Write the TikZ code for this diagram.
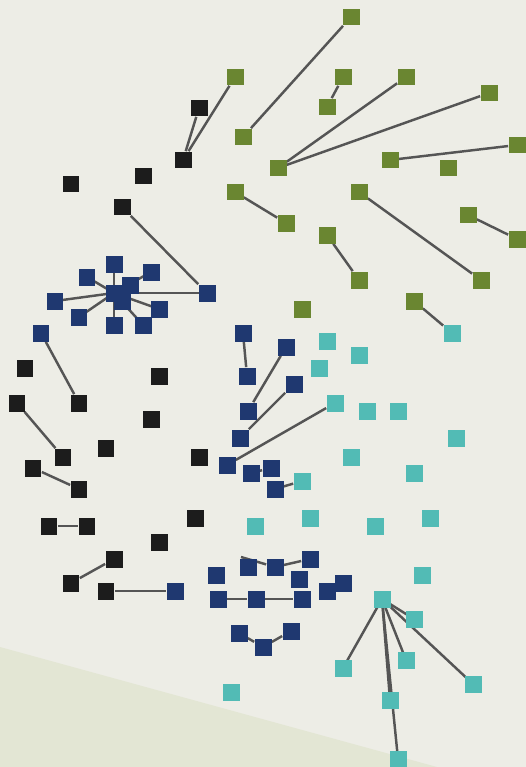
\documentclass[tikz,border=0pt]{standalone}
\usepackage{tikz}
\usetikzlibrary{backgrounds}
\definecolor{cpage}{HTML}{EDEDE6}
\definecolor{cshade}{HTML}{E3E6D4}
\definecolor{cdark}{HTML}{1C1C1C}
\definecolor{cnavy}{HTML}{1F3870}
\definecolor{colive}{HTML}{6A8631}
\definecolor{cteal}{HTML}{52BBB5}
\definecolor{cedge}{HTML}{555555}
\pgfdeclarelayer{edges}
\pgfsetlayers{background,edges,main}
\tikzset{
  sq/.style={rectangle, draw=none, inner sep=0pt, minimum size=3.4mm},
  oliven/.style={sq, fill=colive},
  darkn/.style={sq, fill=cdark},
  navyn/.style={sq, fill=cnavy},
  tealn/.style={sq, fill=cteal},
  link/.style={draw=cedge, line width=1.4pt},
}

\begin{document}
\begin{tikzpicture}[x=0.02cm,y=-0.02cm]
\useasboundingbox (0,0) rectangle (526,767);
\begin{pgfonlayer}{background}
\fill[cpage] (0,0) rectangle (526,767);
\fill[cshade] (0,647) -- (437,767) -- (0,767) -- cycle;
\end{pgfonlayer}
% olive group, top right
\node[oliven] (o1) at (351,17) {};
\node[oliven] (o2) at (235,77) {};
\node[oliven] (o3) at (343,77) {};
\node[oliven] (o4) at (406,77) {};
\node[oliven] (o5) at (489,93) {};
\node[oliven] (o6) at (327,107) {};
\node[oliven] (o7) at (243,137) {};
\node[oliven] (o8) at (517,145) {};
\node[oliven] (o9) at (390,160) {};
\node[oliven] (o10) at (278,168) {};
\node[oliven] (o11) at (448,168) {};
\node[oliven] (o12) at (235,192) {};
\node[oliven] (o13) at (359,192) {};
\node[oliven] (o14) at (286,223) {};
\node[oliven] (o15) at (468,215) {};
\node[oliven] (o16) at (327,235) {};
\node[oliven] (o17) at (517,239) {};
\node[oliven] (o18) at (359,280) {};
\node[oliven] (o19) at (481,280) {};
\node[oliven] (o20) at (302,309) {};
\node[oliven] (o21) at (414,301) {};
% dark group, left
\node[darkn] (k1) at (199,108) {};
\node[darkn] (k2) at (183,160) {};
\node[darkn] (k3) at (71,184) {};
\node[darkn] (k4) at (143,176) {};
\node[darkn] (k5) at (122,207) {};
\node[darkn] (k6) at (25,368) {};
\node[darkn] (k7) at (159,376) {};
\node[darkn] (k8) at (17,403) {};
\node[darkn] (k9) at (79,403) {};
\node[darkn] (k10) at (151,419) {};
\node[darkn] (k11) at (106,448) {};
\node[darkn] (k12) at (63,457) {};
\node[darkn] (k13) at (199,457) {};
\node[darkn] (k14) at (33,468) {};
\node[darkn] (k15) at (79,489) {};
\node[darkn] (k16) at (195,518) {};
\node[darkn] (k17) at (49,526) {};
\node[darkn] (k18) at (87,526) {};
\node[darkn] (k19) at (159,542) {};
\node[darkn] (k20) at (114,559) {};
\node[darkn] (k21) at (71,583) {};
\node[darkn] (k22) at (106,591) {};
% navy group
\node[navyn] (n1) at (114,264) {};
\node[navyn] (n2) at (87,277) {};
\node[navyn] (n3) at (151,272) {};
\node[navyn] (n4) at (130,285) {};
\node[navyn] (n5) at (55,301) {};
\node[navyn] (n6) at (114,293) {};
\node[navyn] (n7) at (122,301) {};
\node[navyn] (n8) at (79,317) {};
\node[navyn] (n9) at (159,309) {};
\node[navyn] (n10) at (114,325) {};
\node[navyn] (n11) at (143,325) {};
\node[navyn] (n12) at (207,293) {};
\node[navyn] (n13) at (41,333) {};
\node[navyn] (n14) at (243,333) {};
\node[navyn] (n15) at (286,347) {};
\node[navyn] (n16) at (247,376) {};
\node[navyn] (n17) at (294,384) {};
\node[navyn] (n18) at (248,411) {};
\node[navyn] (n19) at (240,438) {};
\node[navyn] (n20) at (227,465) {};
\node[navyn] (n21) at (251,473) {};
\node[navyn] (n22) at (271,468) {};
\node[navyn] (n23) at (275,489) {};
\node[navyn] (n24) at (175,591) {};
\node[navyn] (n25) at (216,575) {};
\node[navyn] (n26) at (248,567) {};
\node[navyn] (n27) at (275,567) {};
\node[navyn] (n28) at (310,559) {};
\node[navyn] (n29) at (299,579) {};
\node[navyn] (n30) at (218,599) {};
\node[navyn] (n31) at (256,599) {};
\node[navyn] (n32) at (302,599) {};
\node[navyn] (n33) at (327,591) {};
\node[navyn] (n34) at (343,583) {};
\node[navyn] (n35) at (239,633) {};
\node[navyn] (n36) at (263,647) {};
\node[navyn] (n37) at (291,631) {};
% teal group, right
\node[tealn] (t1) at (452,333) {};
\node[tealn] (t2) at (327,341) {};
\node[tealn] (t3) at (359,355) {};
\node[tealn] (t4) at (319,368) {};
\node[tealn] (t5) at (335,403) {};
\node[tealn] (t6) at (367,411) {};
\node[tealn] (t7) at (398,411) {};
\node[tealn] (t8) at (456,438) {};
\node[tealn] (t9) at (351,457) {};
\node[tealn] (t10) at (414,473) {};
\node[tealn] (t11) at (302,481) {};
\node[tealn] (t12) at (255,526) {};
\node[tealn] (t13) at (310,518) {};
\node[tealn] (t14) at (375,526) {};
\node[tealn] (t15) at (430,518) {};
\node[tealn] (t16) at (422,575) {};
\node[tealn] (t17) at (382,599) {};
\node[tealn] (t18) at (414,619) {};
\node[tealn] (t19) at (343,668) {};
\node[tealn] (t20) at (406,660) {};
\node[tealn] (t21) at (473,684) {};
\node[tealn] (t22) at (390,700) {};
\node[tealn] (t23) at (398,759) {};
\node[tealn] (t24) at (231,692) {};
\coordinate (stub) at (241,557);
% links
\begin{pgfonlayer}{edges}
\draw[link] (o1) -- (o7);
\draw[link] (o2) -- (k2);
\draw[link] (k1) -- (k2);
\draw[link] (o3) -- (o6);
\draw[link] (o4) -- (o10);
\draw[link] (o5) -- (o10);
\draw[link] (o9) -- (o8);
\draw[link] (o12) -- (o14);
\draw[link] (o13) -- (o19);
\draw[link] (o16) -- (o18);
\draw[link] (o15) -- (o17);
\draw[link] (o21) -- (t1);
\draw[link] (k5) -- (n12);
\draw[link] (n6.center) -- (n1.center);
\draw[link] (n6.center) -- (n2.center);
\draw[link] (n6.center) -- (n3.center);
\draw[link] (n6.center) -- (n5.center);
\draw[link] (n6.center) -- (n8.center);
\draw[link] (n6.center) -- (n9.center);
\draw[link] (n6.center) -- (n10.center);
\draw[link] (n6.center) -- (n11.center);
\draw[link] (n6.center) -- (n12.center);
\draw[link] (n13) -- (k9);
\draw[link] (k8) -- (k12);
\draw[link] (k14) -- (k15);
\draw[link] (k17) -- (k18);
\draw[link] (k20) -- (k21);
\draw[link] (k22) -- (n24);
\draw[link] (n14) -- (n16);
\draw[link] (n15) -- (n18);
\draw[link] (n17) -- (n19);
\draw[link] (t5) -- (n20);
\draw[link] (n21) -- (n22);
\draw[link] (n23) -- (t11);
\draw[link] (stub) -- (n27);
\draw[link] (n27) -- (n28);
\draw[link] (n30) -- (n31);
\draw[link] (n31) -- (n32);
\draw[link] (n35) -- (n36);
\draw[link] (n36) -- (n37);
\draw[link] (t17.center) -- (t18.center);
\draw[link] (t17.center) -- (t19.center);
\draw[link] (t17.center) -- (t20.center);
\draw[link] (t17.center) -- (t21.center);
\draw[link] (t17.center) -- (t22.center);
\draw[link] (t17.center) -- (t23.center);
\end{pgfonlayer}
\end{tikzpicture}
\end{document}
